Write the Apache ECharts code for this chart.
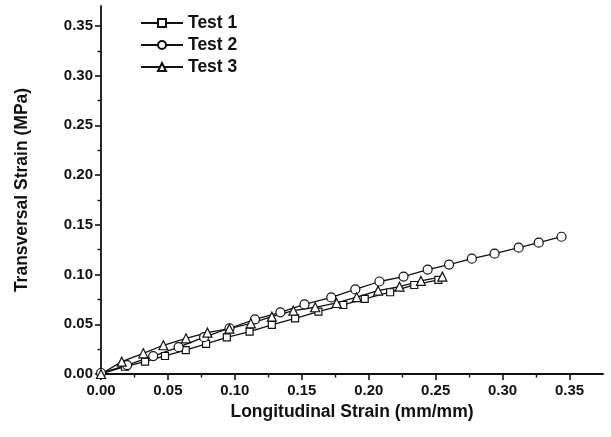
<!DOCTYPE html>
<html>
<head>
<meta charset="utf-8">
<script src="https://cdn.jsdelivr.net/npm/echarts@6/dist/echarts.min.js"></script>
<style>html,body{margin:0;padding:0;background:#fff}#c{width:611px;height:437px}</style>
</head>
<body>
<div id="c"></div>
<script>
var seriesNames = ['Test 1', 'Test 2', 'Test 3'];
var test1X = [0, 0.0179, 0.0329, 0.0478, 0.0633, 0.0785, 0.094, 0.111, 0.1276, 0.145, 0.1624, 0.181, 0.197, 0.216, 0.234, 0.252];
var test1Y = [0, 0.0073, 0.0124, 0.0181, 0.0241, 0.0302, 0.0369, 0.0426, 0.0493, 0.056, 0.0627, 0.0694, 0.0755, 0.0822, 0.0895, 0.0946];
var test2X = [0, 0.0195, 0.039, 0.058, 0.077, 0.096, 0.115, 0.134, 0.152, 0.172, 0.190, 0.208, 0.226, 0.244, 0.260, 0.277, 0.294, 0.312, 0.327, 0.344];
var test2Y = [0.001, 0.009, 0.018, 0.027, 0.037, 0.046, 0.055, 0.062, 0.070, 0.077, 0.085, 0.093, 0.098, 0.105, 0.110, 0.116, 0.121, 0.127, 0.132, 0.138];
var test3X = [0, 0.0155, 0.0316, 0.0466, 0.0635, 0.0795, 0.0959, 0.1119, 0.1276, 0.1437, 0.1600, 0.176, 0.191, 0.207, 0.223, 0.239, 0.255];
var test3Y = [0, 0.0124, 0.0208, 0.0289, 0.0359, 0.0416, 0.0456, 0.051, 0.0577, 0.0637, 0.0671, 0.0714, 0.0772, 0.0838, 0.0878, 0.0936, 0.0979];
var tickValues = [0, 0.05, 0.10, 0.15, 0.20, 0.25, 0.30, 0.35];
var xAxisTitle = 'Longitudinal Strain (mm/mm)';
var yAxisTitle = 'Transversal Strain (MPa)';

function pairs(xs, ys) { return xs.map(function (x, i) { return [x, ys[i]]; }); }

var font = 'Liberation Sans, Arial, sans-serif';
function axis(name, max, gap, margin) {
  return {
    type: 'value', min: 0, max: max, interval: 0.05,
    name: name, nameLocation: 'middle', nameGap: gap,
    nameTextStyle: { fontFamily: font, fontWeight: 'bold', fontSize: 17.5, color: '#111' },
    axisLine: { show: true, onZero: false, lineStyle: { color: '#111', width: 1.8 } },
    axisTick: { show: true, inside: false, length: 6, customValues: tickValues, lineStyle: { color: '#111', width: 1.6 } },
    minorTick: { show: true, splitNumber: 2, length: 3.5, lineStyle: { color: '#111', width: 1.4 } },
    axisLabel: { customValues: tickValues, fontFamily: font, fontWeight: 'bold', fontSize: 15, color: '#111', margin: margin,
      formatter: function (v) { return v.toFixed(2); } },
    splitLine: { show: false }
  };
}

var symbols = ['rect', 'circle', 'triangle'];
var sizes = [7, 9, 9];
var data = [pairs(test1X, test1Y), pairs(test2X, test2Y), pairs(test3X, test3Y)];

var chart = echarts.init(document.getElementById('c'), null, { renderer: 'canvas' });
chart.setOption({
  animation: false,
  backgroundColor: '#fff',
  grid: { left: 101, right: 8, top: 6, bottom: 63, containLabel: false },
  xAxis: axis(xAxisTitle, 0.375, 28, 9),
  yAxis: axis(yAxisTitle, 0.37, 70, 8),
  legend: {
    orient: 'vertical', left: 135, top: 9, itemWidth: 42, itemHeight: 10, itemGap: 4,
    textStyle: { fontFamily: font, fontWeight: 'bold', fontSize: 17.5, color: '#111' },
    data: seriesNames
  },
  series: seriesNames.map(function (n, i) {
    return {
      name: n, type: 'line', data: data[i], symbol: symbols[i], symbolSize: sizes[i],
      showAllSymbol: true,
      lineStyle: { color: '#111', width: 1.3 },
      itemStyle: { color: '#fff', borderColor: '#111', borderWidth: 1.2 },
      emphasis: { disabled: true }
    };
  })
});
</script>
</body>
</html>
